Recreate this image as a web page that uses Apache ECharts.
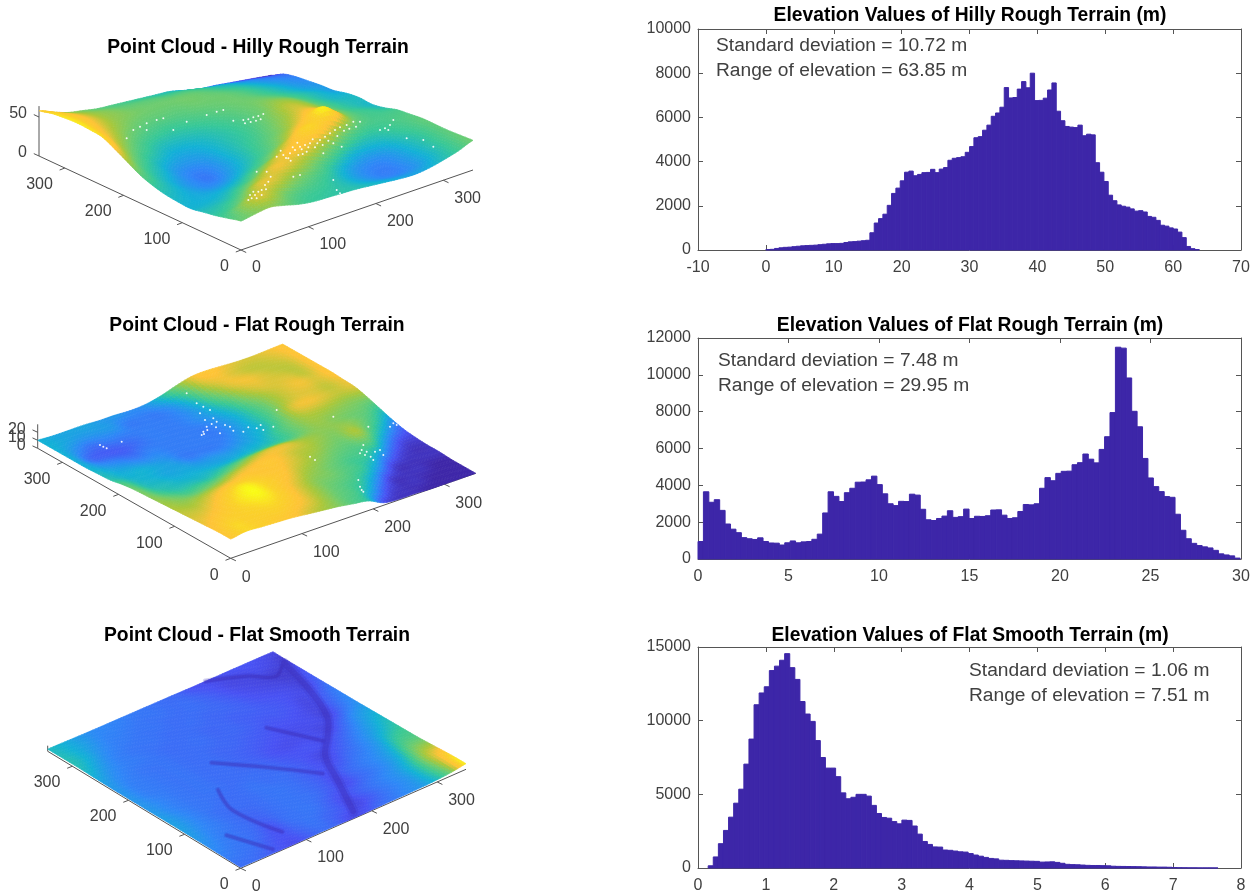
<!DOCTYPE html>
<html><head><meta charset="utf-8">
<script src="https://cdn.jsdelivr.net/npm/echarts@6/dist/echarts.min.js"></script>
<style>html,body{margin:0;padding:0;background:#fff}#c{width:1259px;height:896px}</style>
</head><body><div id="c"></div>
<script>
// ---------- histogram data (counts per bin) ----------
const hillyCounts = [20,30,70,100,120,130,150,170,190,200,210,220,240,260,280,290,290,300,340,370,380,400,420,440,780,1220,1420,1620,2020,2560,2800,3130,3520,3570,3360,3420,3500,3510,3650,3500,3660,3730,4060,4150,4180,4220,4420,4680,5080,5130,5420,5650,6050,6200,6460,7350,6880,6900,7280,7620,7340,8000,6760,6770,6870,7240,7560,6280,5850,5590,5560,5540,5650,5170,5240,5210,3950,3520,3100,2480,2230,2040,1980,1940,1860,1760,1780,1720,1520,1480,1340,1120,1080,1000,950,810,560,160,60,20];
const flatRoughCounts = [950,3650,3080,3220,2640,1900,1620,1430,1160,1100,1060,1150,950,870,860,760,880,980,880,930,950,1070,1350,2500,3650,3400,3120,3600,3840,4170,4180,4300,4500,4040,3540,3000,2900,3130,3120,3520,3470,2700,2130,2090,2200,2330,2620,2260,2300,2710,2200,2320,2310,2350,2660,2670,2380,2200,2240,2580,2960,2940,3000,3840,4420,4250,4650,4760,4770,5120,5230,5700,5420,5220,5950,6640,7950,11500,11450,9830,8020,7180,5460,4400,3930,3660,3390,3350,2430,1560,1100,850,730,660,600,470,280,220,170,50];
const flatSmoothCounts = [150,750,1650,2550,3450,4400,5350,7050,8750,11080,11880,12300,13400,13700,14100,14550,13600,12800,11300,10450,9950,8650,7500,6780,6780,6200,5100,4700,4800,5000,5000,4880,4250,3700,3430,3380,3150,3000,3250,3230,2850,2300,1800,1600,1430,1420,1220,1200,1150,1100,1080,980,880,800,720,650,620,530,520,500,490,480,470,460,450,400,410,420,380,320,250,230,220,200,180,170,170,160,150,120,110,105,100,95,90,80,70,70,60,60,50,30,20,15,10,10,5,5,5,3];
const hillyBins = {start:0, width:0.6385};
const flatRoughBins = {start:0, width:0.2995};
const flatSmoothBins = {start:0.15, width:0.0751};

// ---------- terrain heights (m); rows run along the y axis, columns along the x axis ----------
const hillyHeights = [
[37,40,42,38,33,30,29,28,27,25,23,21,20,22,26,31,38],
[33,42,50,46,38,33,31,29,26,22,18,15,15,18,24,30,37],
[29,32,40,50,50,44,38,33,28,22,17,14,14,18,24,30,36],
[26,27,30,38,46,52,50,44,36,28,21,17,16,19,25,30,36],
[23,23,24,28,33,42,50,54,52,44,34,26,23,24,28,32,36],
[24,22,21,21,24,30,36,46,54,61,56,44,34,30,31,33,34],
[26,23,19,16,17,22,28,34,42,52,58,66,52,38,33,32,32],
[30,25,19,15,13,18,24,30,36,42,50,56,50,40,33,30,27],
[36,28,22,16,14,17,23,28,32,38,44,50,46,38,31,27,24],
[45,33,26,20,18,19,23,27,30,35,41,47,44,36,30,26,25],
[54,41,31,26,22,22,24,27,30,34,38,43,41,34,28,24,23],
[62,48,38,31,27,26,27,29,32,35,38,39,36,31,27,23,19],
[64,53,44,37,33,31,31,33,35,37,38,36,32,28,24,20,18],
[65,56,48,42,38,36,36,36,38,38,37,34,30,26,22,18,16],
[64,57,50,44,41,39,38,38,38,37,34,30,27,23,19,16,14],
[62,55,48,43,40,37,36,35,33,32,29,25,22,18,15,12,10],
[58,50,43,39,35,33,31,29,27,25,20,15,13,10,7,4,1]];
const flatRoughHeights = [
[24,27,26,25,24,22,20,18,15,12,3,1,1,0,0,0,0],
[24,27,26,26,26,24,22,19,16,14,9,3,1,1,0,0,0],
[23,25,26,27,28,26,23,20,17,15,13,8,2,1,1,0,0],
[22,23,25,28,30,27,24,21,18,17,15,13,8,2,1,1,1],
[21,21,23,26,29,27,25,23,20,18,16,14,13,8,3,1,1],
[20,19,20,22,24,25,24,24,22,20,18,16,15,15,8,3,2],
[19,17,15,16,18,21,23,24,23,21,20,18,17,20,14,8,4],
[18,14,12,12,12,14,17,20,22,22,20,19,18,19,17,13,8],
[17,12,11,10,10,10,10,11,12,13,14,17,19,18,17,16,13],
[15,11,10,9,9,8,8,8,9,10,13,17,20,20,19,18,18],
[12,10,10,9,8,6,6,6,7,9,11,16,22,23,22,21,22],
[11,9,8,7,7,6,6,6,6,8,11,15,20,22,22,21,23],
[10,7,6,5,6,6,6,6,6,8,11,16,20,22,23,22,24],
[10,5,4,4,5,6,6,6,7,9,13,19,22,22,22,21,24],
[10,7,5,6,6,6,6,6,7,10,17,22,23,22,21,21,24],
[10,9,8,8,8,6,6,6,8,13,21,23,22,21,21,22,24],
[10,9,9,9,8,8,7,8,12,18,23,24,23,22,22,23,24]];
const flatSmoothHeights = [
[1.4,1.4,1.2,1.0,.9,1.2,1.4,1.2,.8,1.0,1.4,1.6,1.9,2.2,3.0,4.6,7.5],
[1.6,1.5,1.4,1.1,1.0,1.3,1.5,1.3,1.1,.8,1.1,1.5,1.8,2.2,3.2,5.0,7.2],
[1.8,1.6,1.5,1.3,1.0,1.4,1.5,1.5,1.2,.9,1.2,1.5,1.8,2.2,3.2,5.2,6.2],
[2.0,1.7,1.5,1.4,1.2,1.4,1.5,1.5,1.4,1.1,.9,1.3,1.6,2.0,2.8,4.6,5.0],
[2.2,1.8,1.6,1.4,1.3,1.4,1.5,1.5,1.4,1.2,.9,1.3,1.6,1.9,2.5,3.8,4.0],
[2.3,1.9,1.6,1.4,1.4,1.4,1.5,1.5,1.4,1.2,1.0,1.0,1.4,1.7,2.2,3.2,3.6],
[2.3,1.9,1.6,1.5,1.4,1.4,1.5,1.4,1.4,1.2,1.0,.8,1.1,1.5,2.0,2.6,3.2],
[2.2,1.8,1.6,1.5,1.5,1.4,1.4,1.4,1.3,1.1,1.0,1.0,.9,1.2,1.7,2.3,2.8],
[2.1,1.8,1.6,1.5,1.5,1.4,1.4,1.3,1.2,1.0,.9,.9,.9,.8,1.3,2.0,2.4],
[2.1,1.7,1.6,1.5,1.5,1.4,1.4,1.3,1.2,1.1,1.0,.9,.9,.9,.8,1.5,2.0],
[2.1,1.7,1.6,1.5,1.5,1.4,1.4,1.3,1.3,1.2,1.1,1.0,1.0,.9,.8,1.3,1.8],
[2.2,1.8,1.6,1.5,1.5,1.4,1.4,1.4,1.3,1.3,1.2,1.1,1.1,1.0,.8,1.1,1.6],
[2.5,2.0,1.7,1.6,1.5,1.4,1.4,1.4,1.3,1.3,1.2,1.2,1.1,1.0,.9,.8,1.3],
[2.9,2.3,1.8,1.6,1.5,1.5,1.4,1.4,1.4,1.3,1.3,1.2,1.0,.9,.8,.7,1.1],
[3.1,2.6,2.0,1.7,1.6,1.5,1.5,1.4,1.4,1.4,1.3,1.1,.9,.8,.7,.6,.9],
[3.0,2.6,2.2,1.8,1.7,1.6,1.5,1.5,1.4,1.4,1.2,1.0,.8,.8,.9,.8,.6],
[2.9,2.6,2.2,1.9,1.8,1.7,1.6,1.5,1.4,1.3,1.0,.9,.9,1.0,1.0,.9,.8]];
// drainage channels of the smooth terrain, as ground coordinates (x, y)
const mainChannel = [[182,12],[215,80],[238,127],[270,160],[296,191],[320,250],[337,316]];
const channelA = [[241,344],[285,322],[310,300],[330,312]];
const channelB = [[227,219],[258,155]];
const channelC = [[127,200],[170,150],[210,99]];
const channelD = [[93,149],[76,103],[89,30]];
const channelE = [[34,65],[55,7]];
// white gaps in the point clouds, as picture positions relative to each panel
const hillyGaps = [[745,510],[755,505],[765,495],[775,485],[785,480],[795,465],[805,455],[770,505],[750,495],[760,485],[830,380],[850,375],[870,370],[885,360],[900,350],[915,345],[930,340],[945,352],[960,330],[975,320],[990,310],[1005,300],[1020,292],[1040,285],[1060,275],[1080,275],[865,385],[895,375],[920,365],[1025,350],[970,370],[1000,340],[730,270],[745,268],[760,262],[775,258],[790,252],[700,272],[650,245],[670,240],[620,255],[400,300],[420,290],[440,280],[470,270],[490,265],[380,325],[520,300],[560,275],[1140,300],[1155,295],[1170,285],[1180,270],[1220,325],[1270,330],[1300,350],[1010,480],[1020,490],[770,425],[800,425],[880,440],[900,435],[1000,450],[842,362],[858,384],[878,352],[892,338],[908,372],[925,352],[938,328],[952,340],[968,345],[985,332],[1012,318],[1032,302],[1048,296],[1068,290],[872,392],[905,358],[735,280],[752,276],[768,272],[782,268],[785,495],[798,478],[812,440],[440,300],[1165,300]];
const flatRoughGaps = [[605,375],[610,365],[620,350],[615,330],[640,325],[600,310],[630,300],[650,335],[660,370],[690,350],[730,365],[770,355],[790,360],[820,350],[1080,430],[1100,425],[1120,450],[1090,405],[1140,420],[1170,350],[1080,530],[1090,545],[1075,510],[310,410],[365,395],[300,405],[930,440],[945,450],[1105,350],[1180,340],[1190,345],[1000,320],[830,300],[560,250],[590,280],[610,290],[675,345],[612,372],[622,360],[635,342],[648,352],[700,362],[745,352],[782,345],[1095,435],[1112,440],[1085,420],[1125,425],[1150,435],[1085,540],[320,415]];
const groundTicks = [0,100,200,300];
const hillyElevationTicks = [0,50];
const flatRoughElevationTicks = [0,10,20];
const flatSmoothElevationTicks = [];

// ---------- text ----------
const FONT = '"Liberation Sans", Arial, sans-serif';
const TXT = '#404040', AX = '#555555', BAR = '#3d26a8';
const titles3d = ['Point Cloud - Hilly Rough Terrain','Point Cloud - Flat Rough Terrain','Point Cloud - Flat Smooth Terrain'];
const titlesHist = ['Elevation Values of Hilly Rough Terrain (m)','Elevation Values of Flat Rough Terrain (m)','Elevation Values of Flat Smooth Terrain (m)'];
const notes = ['Standard deviation = 10.72 m\nRange of elevation = 63.85 m','Standard deviation = 7.48 m\nRange of elevation = 29.95 m','Standard deviation = 1.06 m\nRange of elevation = 7.51 m'];

// ---------- parula colour ramp ----------
const RAMP = [[0,62,38,168],[.11,72,82,244],[.22,46,135,247],[.33,18,177,214],[.44,55,200,151],[.56,110,204,110],[.67,171,199,57],[.78,254,195,55],[.89,250,210,40],[1,249,251,21]];
function parula(t){
  t=Math.max(0,Math.min(1,t));
  for(let k=1;k<RAMP.length;k++){ if(t<=RAMP[k][0]){
    const a=RAMP[k-1],b=RAMP[k],f=(t-a[0])/(b[0]-a[0]);
    return 'rgb('+[1,2,3].map(n=>Math.round(a[n]+(b[n]-a[n])*f)).join(',')+')';
  }}
  return 'rgb(249,251,21)';
}

// ---------- 3D views: oblique projection of ground/elevation to the page ----------
const GROUND_MAX = 344;
const views = [
 {H:hillyHeights, zt:hillyElevationTicks, top:60, h:230, cropTop:30, gaps:hillyGaps, o:[241,190], ax:[232,-80], ay:[-202,-94], kz:.78, zTop:64, colorMin:0, colorMax:68, dR:18, dL:16.5},
 {H:flatRoughHeights, zt:flatRoughElevationTicks, top:340, h:240, cropTop:310, gaps:flatRoughGaps, o:[230.7,218.3], ax:[245,-85], ay:[-193,-110], kz:.8, zTop:30, colorMin:0, colorMax:30, dR:19, dL:17},
 {H:flatSmoothHeights, zt:flatSmoothElevationTicks, top:640, h:250, cropTop:620, gaps:[], channels:[mainChannel,channelA,channelB,channelC,channelD,channelE], o:[240.7,228.3], ax:[225.3,-99], ay:[-193,-117], kz:.75, zTop:7.5, colorMin:.15, colorMax:7.66, dR:18.5, dL:16}
];
function project(v,a,b,z){ return [v.o[0]+a*v.ax[0]+b*v.ay[0], v.o[1]+a*v.ax[1]+b*v.ay[1]-z*v.kz]; }
function cr(p0,p1,p2,p3,t){ return .5*(2*p1+(p2-p0)*t+(2*p0-5*p1+4*p2-p3)*t*t+(3*p1-p0-3*p2+p3)*t*t*t); }
function sampleSurface(H,s,t){
  const n=H.length-1,i=Math.min(Math.floor(s),n-1),j=Math.min(Math.floor(t),n-1),fs=s-i,ft=t-j;
  const at=(r,c)=>H[Math.max(0,Math.min(n,r))][Math.max(0,Math.min(n,c))];
  const row=r=>cr(at(r,i-1),at(r,i),at(r,i+1),at(r,i+2),fs);
  return cr(row(j-1),row(j),row(j+1),row(j+2),ft);
}
const SUB = 5;
function surfaceRender(v){
  const n=v.H.length-1;
  return function(params,api){
    const i=api.value(0),j=api.value(1),kids=[];
    for(let q=SUB-1;q>=0;q--)for(let p=SUB-1;p>=0;p--){
      const cs=[[p,q],[p+1,q],[p+1,q+1],[p,q+1]].map(c=>{
        const s=i+c[0]/SUB,t=j+c[1]/SUB,z=sampleSurface(v.H,s,t);
        return {z,pt:api.coord(project(v,s/n,t/n,z))};
      });
      const zm=(cs[0].z+cs[1].z+cs[2].z+cs[3].z)/4,col=parula((zm-v.colorMin)/(v.colorMax-v.colorMin));
      kids.push({type:'polygon',shape:{points:cs.map(c=>c.pt)},style:{fill:col,stroke:col,lineWidth:.7}});
    }
    return {type:'group',children:kids};
  };
}
function channelRender(v){
  const n=v.H.length-1;
  return function(params,api){
    const kids=[];
    v.channels.forEach((ch,k)=>{
      const pts=ch.map(p=>{
        const a=p[0]/GROUND_MAX,b=p[1]/GROUND_MAX,z=sampleSurface(v.H,a*n,b*n);
        return api.coord(project(v,a,b,z));
      });
      const w=k===0?6:3;
      kids.push({type:'polyline',shape:{smooth:.4,points:pts},style:{fill:null,stroke:'rgba(60,50,190,.22)',lineWidth:w*1.8,lineCap:'round',lineJoin:'round'}});
      kids.push({type:'polyline',shape:{smooth:.4,points:pts},style:{fill:null,stroke:'rgba(58,40,175,.3)',lineWidth:w,lineCap:'round',lineJoin:'round'}});
    });
    return {type:'group',children:kids};
  };
}
function axesRender(v){
  return function(params,api){
    const P=(a,b,z)=>api.coord(project(v,a,b,z)),kids=[];
    const line=(A,B)=>kids.push({type:'line',shape:{x1:A[0],y1:A[1],x2:B[0],y2:B[1]},style:{stroke:AX,lineWidth:1}});
    const text=(s,x,y,al)=>kids.push({type:'text',style:{text:s,x,y,align:al,verticalAlign:'middle',fill:TXT,font:'16px '+FONT}});
    const O=P(0,0,0),XE=P(1,0,0),YE=P(0,1,0),ZE=P(0,1,v.zTop);
    line(O,XE);line(O,YE);line(YE,ZE);
    groundTicks.forEach(t=>{
      const f=t/GROUND_MAX,X=P(f,0,0),Y=P(0,f,0);
      line(X,[X[0]+5.2,X[1]+2.5]);
      line(Y,[Y[0]-5.2,Y[1]+2]);
      text(String(t),X[0]+11,X[1]+v.dR,'left');
      text(String(t),Y[0]-12,Y[1]+v.dL,'right');
    });
    v.zt.forEach(t=>{
      const Z=P(0,1,t);
      line(Z,[Z[0]-5.2,Z[1]-2.4]);
      text(String(t),Z[0]-12,Z[1]-3,'right');
    });
    return {type:'group',children:kids};
  };
}

// ---------- assemble ----------
const grid=[],xAxis=[],yAxis=[],series=[],title=[];
views.forEach((v,k)=>{
  const g=grid.length;
  grid.push({left:0,top:v.top,width:500,height:v.h});
  xAxis.push({type:'value',gridIndex:g,min:0,max:500,show:false});
  yAxis.push({type:'value',gridIndex:g,min:0,max:v.h,inverse:true,show:false});
  series.push({type:'custom',coordinateSystem:'cartesian2d',xAxisIndex:g,yAxisIndex:g,renderItem:axesRender(v),data:[[0,0]],silent:true,animation:false,clip:false,z:1});
  const cells=[],n=v.H.length-1;
  for(let j=n-1;j>=0;j--)for(let i=n-1;i>=0;i--)cells.push([i,j]);
  series.push({type:'custom',coordinateSystem:'cartesian2d',xAxisIndex:g,yAxisIndex:g,renderItem:surfaceRender(v),data:cells,silent:true,animation:false,clip:false,progressive:0,z:2});
  if(v.channels) series.push({type:'custom',coordinateSystem:'cartesian2d',xAxisIndex:g,yAxisIndex:g,renderItem:channelRender(v),data:[[0,0]],silent:true,animation:false,clip:false,z:3});
  if(v.gaps.length) series.push({type:'scatter',xAxisIndex:g,yAxisIndex:g,data:v.gaps.map(p=>[p[0]/3,p[1]/3+v.cropTop-v.top]),symbolSize:2,itemStyle:{color:'#fff',opacity:.9},silent:true,animation:false,z:3});
});
const hists=[
 {c:hillyCounts,b:hillyBins,top:29,xMin:-10,xMax:70,xInt:10,yMax:10000,yInt:2000},
 {c:flatRoughCounts,b:flatRoughBins,top:338,xMin:0,xMax:30,xInt:5,yMax:12000,yInt:2000},
 {c:flatSmoothCounts,b:flatSmoothBins,top:647,xMin:0,xMax:8,xInt:1,yMax:15000,yInt:5000}
];
const axisCommon={axisLine:{show:true,onZero:false,lineStyle:{color:AX,width:1}},axisTick:{show:true,inside:true,length:5,lineStyle:{color:AX,width:1}},splitLine:{show:false}};
const labX={show:true,color:TXT,fontFamily:FONT,fontSize:16,margin:10,hideOverlap:false,formatter:v=>String(v)};
const labY={...labX,margin:7};
hists.forEach((h,k)=>{
  const g=grid.length;
  grid.push({left:698,top:h.top,width:543,height:221});
  const xa={type:'value',gridIndex:g,min:h.xMin,max:h.xMax,interval:h.xInt,...axisCommon};
  const ya={type:'value',gridIndex:g,min:0,max:h.yMax,interval:h.yInt,...axisCommon};
  const a0=xAxis.length;
  xAxis.push({...xa,position:'bottom',axisLabel:labX}); xAxis.push({...xa,position:'top',axisLabel:{show:false}});
  yAxis.push({...ya,position:'left',axisLabel:labY}); yAxis.push({...ya,position:'right',axisLabel:{show:false}});
  const bw=h.b.width;
  series.push({type:'custom',coordinateSystem:'cartesian2d',xAxisIndex:a0,yAxisIndex:a0,animation:false,silent:true,progressive:0,
    encode:{x:0,y:1},
    data:h.c.map((v,i)=>[h.b.start+i*bw,v]),
    renderItem:(p,api)=>{
      const A=api.coord([api.value(0),api.value(1)]),B=api.coord([api.value(0)+bw,0]);
      return {type:'rect',shape:{x:A[0],y:A[1],width:B[0]-A[0],height:B[1]-A[1]},style:{fill:BAR,stroke:BAR,lineWidth:1}};
    }});
});
const ts3={text:'',textAlign:'center',textStyle:{fontFamily:FONT,fontWeight:'bold',fontSize:19.3,color:'#000'}};
[38.5,316.5,626].forEach((t,k)=>title.push({...ts3,left:[258,257,257][k],top:t,text:titles3d[k],padding:0}));
[6.5,316.5,626.5].forEach((t,k)=>title.push({...ts3,left:970,top:t,text:titlesHist[k],padding:0}));
[[716,33],[718,348],[969,658]].forEach((p,k)=>title.push({text:notes[k],left:p[0],top:p[1],padding:0,textStyle:{fontFamily:FONT,fontWeight:'normal',fontSize:19.2,lineHeight:25,color:TXT}}));

const chart=echarts.init(document.getElementById('c'),null,{renderer:'canvas'});
chart.setOption({backgroundColor:'#fff',animation:false,title,grid,xAxis,yAxis,series});
</script></body></html>
